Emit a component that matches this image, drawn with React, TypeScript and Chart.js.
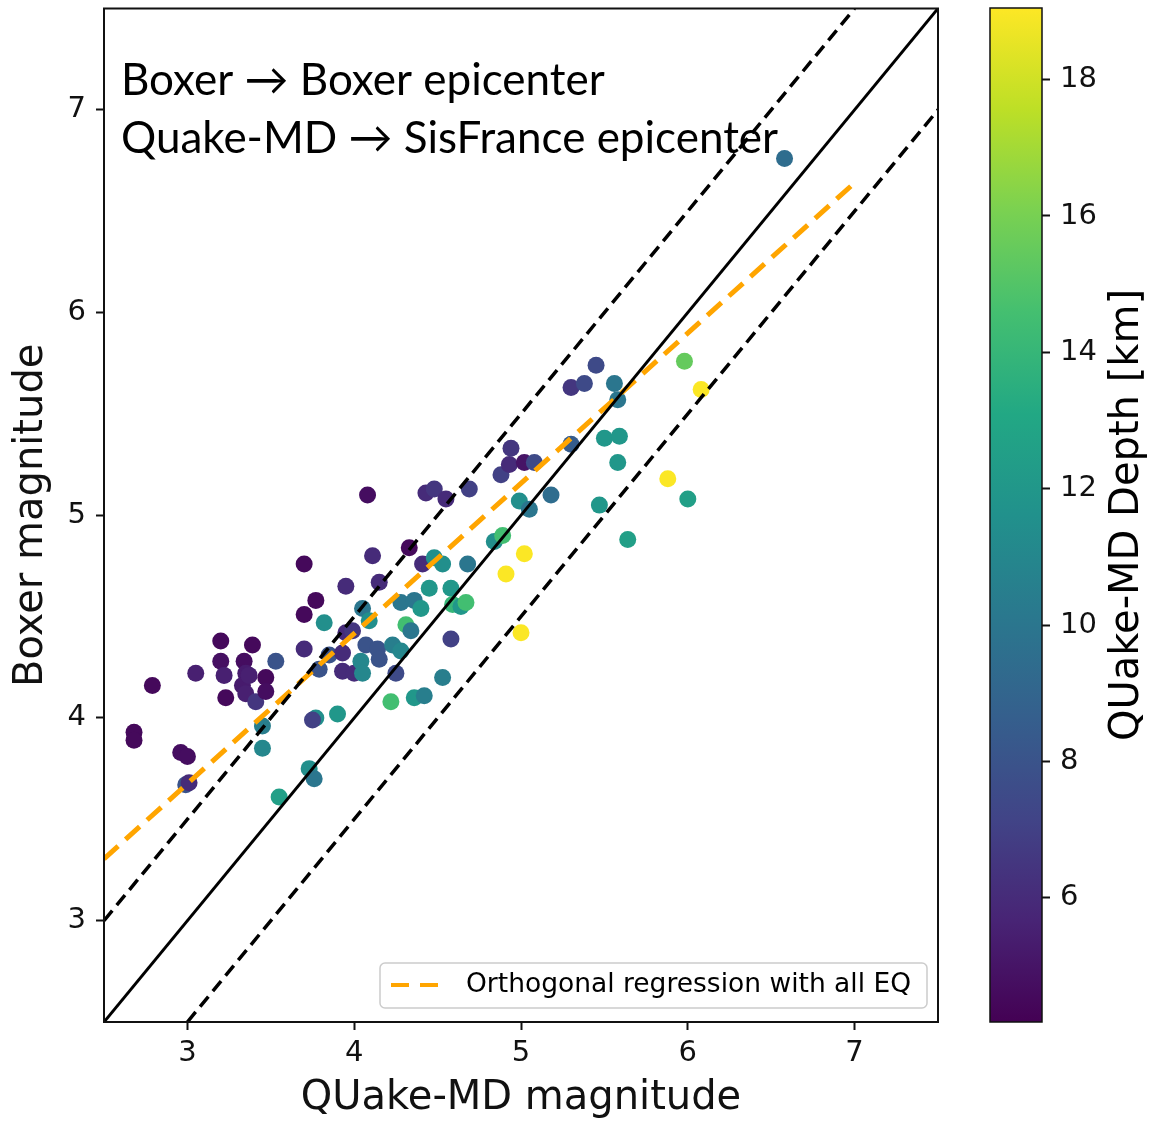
import React, { useEffect, useRef } from 'react';
import { Chart, registerables } from 'chart.js';
Chart.register(...registerables);

// ---- data ----
const qmdMag = [
  2.68, 2.68, 2.79, 2.96, 3.0, 2.99, 3.01, 3.05, 3.2, 3.2, 3.22, 3.23, 3.39, 3.34, 3.35, 3.33, 3.37, 3.35, 3.41, 3.47,
  3.47, 3.53, 3.45, 3.45, 3.55, 3.73, 3.76, 3.7, 3.7, 3.7, 3.77, 3.77, 3.75, 3.9, 3.82, 3.85, 3.79, 3.93, 3.93, 3.95,
  3.95, 3.99, 4.0, 4.04, 4.05, 4.05, 4.07, 4.08, 4.09, 4.11, 4.15, 4.14, 4.15, 4.23, 4.22, 4.25, 4.28, 4.28, 4.33, 4.31,
  4.34, 4.36, 4.36, 4.42, 4.4, 4.41, 4.43, 4.48, 4.45, 4.48, 4.53, 4.53, 4.55, 4.58, 4.58, 4.59, 4.64, 4.67, 4.68, 4.69,
  4.84, 4.89, 4.88, 4.93, 4.94, 5.02, 5.08, 4.91, 5.02, 5.0, 4.99, 5.05, 5.18, 5.3, 5.3, 5.38, 5.45, 5.56, 5.58, 5.5,
  5.59, 5.58, 5.47, 5.64, 5.88, 6.0, 5.98, 6.08, 6.58,
];
const boxerMag = [
  3.93, 3.89, 4.16, 3.83, 3.81, 3.67, 3.68, 4.22, 4.38, 4.28, 4.21, 4.1, 4.36, 4.28, 4.22, 4.16, 4.21, 4.12, 4.08, 4.2,
  4.13, 4.28, 3.96, 3.85, 3.61, 3.75, 3.7, 4.34, 4.51, 4.76, 4.58, 4.0, 3.99, 4.02, 4.47, 4.31, 4.24, 4.32, 4.23, 4.65,
  4.42, 4.43, 4.22, 4.28, 4.54, 4.22, 4.36, 5.1, 4.48, 4.8, 4.67, 4.34, 4.29, 4.36, 4.08, 4.22, 4.33, 4.57, 4.84, 4.46,
  4.43, 4.58, 4.1, 4.11, 4.54, 4.76, 5.11, 5.13, 4.64, 4.79, 4.76, 4.2, 5.08, 4.64, 4.39, 4.56, 4.55, 4.57, 4.76, 5.13,
  4.87, 4.9, 5.2, 5.25, 5.33, 5.26, 5.26, 4.71, 4.81, 4.42, 5.07, 5.03, 5.1, 5.35, 5.63, 5.65, 5.74, 5.65, 5.57, 5.38,
  5.39, 5.26, 5.05, 4.88, 5.18, 5.08, 5.76, 5.62, 6.76,
];
const depthKm = [
  4.5, 4.5, 4.5, 4.7, 4.7, 8.0, 6.0, 5.5, 4.5, 4.8, 5.5, 4.5, 4.5, 4.7, 5.3, 5.3, 5.5, 5.5, 6.5, 4.5,
  4.7, 8.0, 10.5, 11.0, 12.5, 11.5, 10.0, 6.0, 4.5, 4.5, 4.5, 11.5, 7.0, 12.0, 11.5, 8.0, 8.0, 6.0, 6.0, 6.0,
  6.0, 6.5, 6.0, 11.0, 10.0, 11.0, 8.0, 4.7, 11.5, 6.0, 6.0, 8.0, 8.0, 10.5, 14.5, 7.5, 11.0, 10.0, 4.5, 14.5,
  10.0, 10.0, 12.0, 10.5, 12.0, 6.0, 6.0, 6.5, 12.0, 11.5, 11.5, 10.5, 6.0, 12.0, 7.0, 14.0, 12.0, 14.5, 10.0, 7.0,
  11.5, 14.5, 7.0, 6.0, 6.5, 5.0, 7.5, 19.0, 19.0, 19.0, 11.5, 10.0, 9.5, 8.5, 6.5, 7.5, 7.5, 10.0, 10.0, 12.0,
  12.0, 12.0, 12.0, 12.5, 19.0, 12.5, 15.5, 19.0, 9.5,
];

const axisTicks = [3, 4, 5, 6, 7];
const depthTicks = [6, 8, 10, 12, 14, 16, 18];
const axisRange = [2.5, 7.5];
const depthRange = [4.18, 19.05];

const oneToOneX = [2.5, 7.5];
const oneToOneY = [2.5, 7.5];
const upperX = [2.5, 7.0];
const upperY = [3.0, 7.5];
const lowerX = [3.0, 8.0];
const lowerY = [2.5, 7.5];
const regX = [2.5, 7.0];
const regY = [3.305, 6.64];

const legendLabel = 'Orthogonal regression with all EQ';
const noteLines = ['Boxer \u2192 Boxer epicenter', 'Quake-MD \u2192 SisFrance epicenter'];
const xTitle = 'QUake-MD magnitude';
const yTitle = 'Boxer magnitude';
const cbTitle = 'QUake-MD Depth [km]';

// viridis colormap stops
const VIRIDIS = ['#440154', '#482475', '#414487', '#355f8d', '#2a788e', '#21918c', '#22a884', '#44bf70', '#7ad151', '#bddf26', '#fde725'];

function hexToRgb(h: string) {
  return [parseInt(h.slice(1, 3), 16), parseInt(h.slice(3, 5), 16), parseInt(h.slice(5, 7), 16)];
}
function viridis(t: number) {
  const tt = Math.max(0, Math.min(1, t)) * (VIRIDIS.length - 1);
  const i = Math.min(Math.floor(tt), VIRIDIS.length - 2);
  const f = tt - i;
  const a = hexToRgb(VIRIDIS[i]);
  const b = hexToRgb(VIRIDIS[i + 1]);
  const c = a.map((v, k) => Math.round(v + (b[k] - v) * f));
  return `rgb(${c[0]},${c[1]},${c[2]})`;
}
function depthColor(d: number) {
  return viridis((d - depthRange[0]) / (depthRange[1] - depthRange[0]));
}

const pairs = (xs: number[], ys: number[]) => xs.map((x, i) => ({ x, y: ys[i] }));

const FONT = 'DejaVu Sans';
const INK = '#111';

const zeroPad = (s: any) => {
  s.paddingTop = 0;
  s.paddingBottom = 0;
  s.paddingLeft = 0;
  s.paddingRight = 0;
};

const framePlugin = {
  id: 'frame',
  afterDatasetsDraw(chart: any) {
    const { ctx, chartArea: a } = chart;
    ctx.save();
    ctx.strokeStyle = INK;
    ctx.lineWidth = 2;
    ctx.strokeRect(a.left, a.top, a.right - a.left, a.bottom - a.top);
    ctx.restore();
  },
};

const notesPlugin = {
  id: 'notes',
  afterDraw(chart: any) {
    const { ctx } = chart;
    ctx.save();
    ctx.fillStyle = '#000';
    ctx.font = '44px Lato';
    ctx.textBaseline = 'alphabetic';
    ctx.textAlign = 'left';
    ctx.fillText(noteLines[0], 121, 95);
    ctx.fillText(noteLines[1], 121, 153);
    // legend box
    const x0 = 380, y0 = 963, w = 547, h = 45, r = 5;
    ctx.beginPath();
    ctx.moveTo(x0 + r, y0);
    ctx.arcTo(x0 + w, y0, x0 + w, y0 + h, r);
    ctx.arcTo(x0 + w, y0 + h, x0, y0 + h, r);
    ctx.arcTo(x0, y0 + h, x0, y0, r);
    ctx.arcTo(x0, y0, x0 + w, y0, r);
    ctx.closePath();
    ctx.fillStyle = 'rgba(255,255,255,0.8)';
    ctx.fill();
    ctx.strokeStyle = '#cccccc';
    ctx.lineWidth = 1.5;
    ctx.stroke();
    ctx.beginPath();
    ctx.setLineDash([18, 11]);
    ctx.strokeStyle = '#ffa500';
    ctx.lineWidth = 4;
    ctx.moveTo(391, 985);
    ctx.lineTo(440, 985);
    ctx.stroke();
    ctx.setLineDash([]);
    ctx.fillStyle = '#000';
    ctx.font = `26.5px "${FONT}"`;
    ctx.textBaseline = 'middle';
    ctx.fillText(legendLabel, 466, 985);
    ctx.restore();
  },
};

const cbPlugin = {
  id: 'cbdeco',
  afterDraw(chart: any) {
    const { ctx, chartArea: a } = chart;
    ctx.save();
    ctx.strokeStyle = INK;
    ctx.lineWidth = 1.5;
    ctx.strokeRect(a.left, a.top, a.right - a.left, a.bottom - a.top);
    ctx.translate(168, (a.top + a.bottom) / 2);
    ctx.rotate(-Math.PI / 2);
    ctx.fillStyle = '#000';
    ctx.font = `40px "${FONT}"`;
    ctx.textAlign = 'center';
    ctx.textBaseline = 'middle';
    ctx.fillText(cbTitle, 0, 0);
    ctx.restore();
  },
};

function MainChart() {
  const ref = useRef<HTMLCanvasElement>(null);
  useEffect(() => {
    const tickFont = { family: FONT, size: 29 };
    const titleFont = { family: FONT, size: 40, lineHeight: 1 };
    const chart = new Chart(ref.current as HTMLCanvasElement, {
      type: 'scatter',
      data: {
        datasets: [
          { data: pairs(oneToOneX, oneToOneY), showLine: true, borderColor: '#000', borderWidth: 3, pointRadius: 0, order: 0 },
          { data: pairs(upperX, upperY), showLine: true, borderColor: '#000', borderWidth: 3.5, borderDash: [13, 7], pointRadius: 0, order: 0 },
          { data: pairs(lowerX, lowerY), showLine: true, borderColor: '#000', borderWidth: 3.5, borderDash: [13, 7], pointRadius: 0, order: 0 },
          { data: pairs(regX, regY), showLine: true, borderColor: '#ffa500', borderWidth: 5, borderDash: [19, 10], pointRadius: 0, order: 0 },
          {
            data: pairs(qmdMag, boxerMag),
            backgroundColor: depthKm.map(depthColor),
            borderWidth: 0,
            pointRadius: 8.5,
            pointHoverRadius: 8.5,
            order: 1,
          },
        ],
      } as any,
      options: {
        animation: false,
        responsive: false,
        events: [],
        layout: { padding: { left: 0, right: 22, top: 8, bottom: 0 } },
        plugins: { legend: { display: false }, tooltip: { enabled: false } },
        scales: {
          x: {
            type: 'linear',
            min: axisRange[0],
            max: axisRange[1],
            afterBuildTicks: (s: any) => { s.ticks = axisTicks.map((v) => ({ value: v })); },
            afterFit: (s: any) => { s.height = 100; zeroPad(s); },
            grid: { display: true, drawOnChartArea: false, drawTicks: true, tickLength: 8, tickWidth: 2, tickColor: INK },
            border: { display: false },
            ticks: { font: tickFont, color: INK, padding: 6, maxRotation: 0 },
            title: { display: true, text: xTitle, font: titleFont, color: INK, padding: { top: 0, bottom: 3 } },
          },
          y: {
            type: 'linear',
            min: axisRange[0],
            max: axisRange[1],
            afterBuildTicks: (s: any) => { s.ticks = axisTicks.map((v) => ({ value: v })); },
            afterFit: (s: any) => { s.width = 104; zeroPad(s); },
            grid: { display: true, drawOnChartArea: false, drawTicks: true, tickLength: 8, tickWidth: 2, tickColor: INK },
            border: { display: false },
            ticks: { font: tickFont, color: INK, padding: 10 },
            title: { display: true, text: yTitle, font: titleFont, color: INK, padding: { top: 12, bottom: 0 } },
          },
        },
      } as any,
      plugins: [framePlugin, notesPlugin],
    });
    return () => chart.destroy();
  }, []);
  return <canvas ref={ref} width={960} height={1122} style={{ position: 'absolute', left: 0, top: 0, width: 960, height: 1122 }} />;
}

function ColorBar() {
  const ref = useRef<HTMLCanvasElement>(null);
  useEffect(() => {
    const chart = new Chart(ref.current as HTMLCanvasElement, {
      type: 'bar',
      data: {
        labels: [''],
        datasets: [
          {
            data: [depthRange],
            backgroundColor: (c: any) => {
              const { chart: ch } = c;
              const a = ch.chartArea;
              if (!a) return '#21918c';
              const g = ch.ctx.createLinearGradient(0, a.bottom, 0, a.top);
              VIRIDIS.forEach((col, i) => g.addColorStop(i / (VIRIDIS.length - 1), col));
              return g;
            },
            borderWidth: 0,
            barPercentage: 1,
            categoryPercentage: 1,
          },
        ],
      } as any,
      options: {
        animation: false,
        responsive: false,
        events: [],
        layout: { padding: { left: 30, right: 0, top: 8, bottom: 100 } },
        plugins: { legend: { display: false }, tooltip: { enabled: false } },
        scales: {
          x: { display: false },
          y: {
            position: 'right',
            min: depthRange[0],
            max: depthRange[1],
            afterBuildTicks: (s: any) => { s.ticks = depthTicks.map((v) => ({ value: v })); },
            afterFit: (s: any) => { s.width = 109; zeroPad(s); },
            grid: { display: true, drawOnChartArea: false, drawTicks: true, tickLength: 8, tickWidth: 2, tickColor: INK },
            border: { display: false },
            ticks: { font: { family: FONT, size: 29 }, color: INK, padding: 10 },
          },
        },
      } as any,
      plugins: [cbPlugin],
    });
    return () => chart.destroy();
  }, []);
  return <canvas ref={ref} width={191} height={1122} style={{ position: 'absolute', left: 960, top: 0, width: 191, height: 1122 }} />;
}

export default function App() {
  return (
    <div style={{ position: 'absolute', left: 0, top: 0, width: 1151, height: 1122, background: '#fff', overflow: 'hidden' }}>
      <MainChart />
      <ColorBar />
    </div>
  );
}
